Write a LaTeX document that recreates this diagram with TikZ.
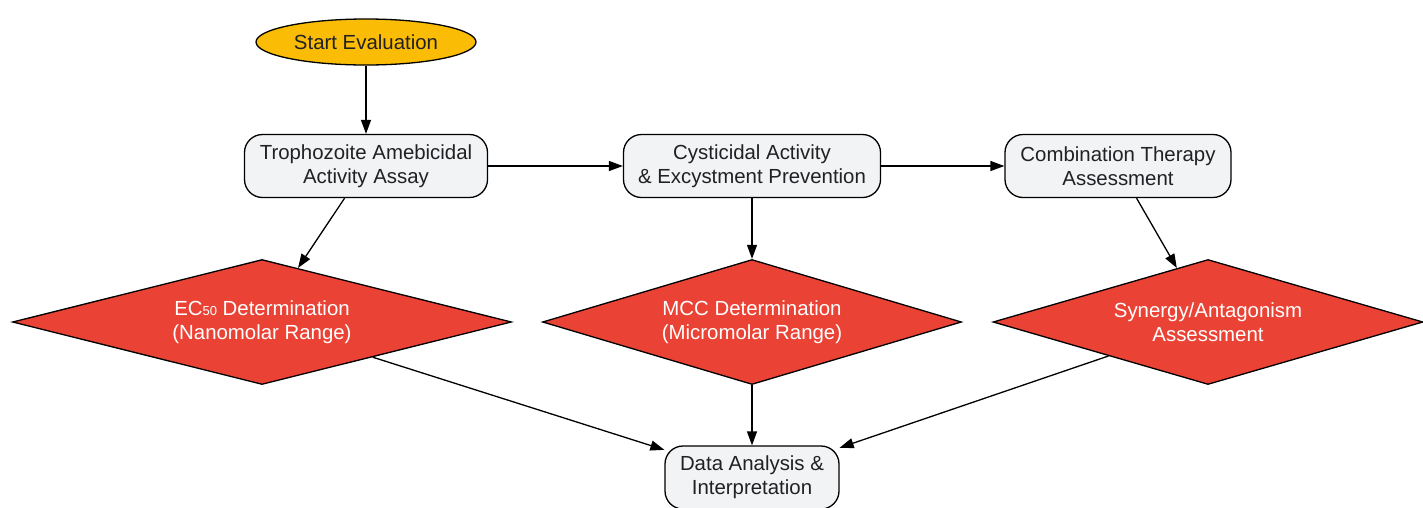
\documentclass[tikz,border=0pt]{standalone}
\usepackage{fontspec}
\setmainfont{Liberation Sans}
\usetikzlibrary{shapes.geometric,arrows.meta}
\definecolor{startyellow}{HTML}{FBBC05}
\definecolor{decred}{HTML}{EA4335}
\definecolor{boxgray}{HTML}{F1F3F4}
\definecolor{textdark}{HTML}{202124}
\newcommand{\subfifty}{{\fontsize{13}{13}\selectfont 50}}
\begin{document}
\begin{tikzpicture}[x=1pt,y=-1pt,
  base/.style={font=\fontsize{20.4}{24}\selectfont, align=center, line width=1.3pt, draw=black},
  startnode/.style={base, ellipse, fill=startyellow, text=textdark, minimum width=220pt, minimum height=46pt, inner sep=0pt},
  procbox/.style={base, rectangle, rounded corners=18pt, fill=boxgray, text=textdark, minimum height=63pt, inner sep=0pt},
  decision/.style={base, diamond, fill=decred, text=white, minimum height=125pt, inner sep=0pt, aspect=4},
  conn/.style={-{Triangle[length=14pt,width=10pt]}, line width=1.3pt}]
\useasboundingbox (0,0) rectangle (1423,507);
\node[startnode] (start) at (366,42) {Start Evaluation};
\node[procbox, minimum width=243pt] (troph) at (366,166) {Trophozoite Amebicidal\\Activity Assay};
\node[procbox, minimum width=257pt] (cyst) at (752,166) {Cysticidal Activity\\\& Excystment Prevention};
\node[procbox, minimum width=226pt] (comb) at (1118,166) {Combination Therapy\\Assessment};
\node[decision, minimum width=499pt] (ec) at (262,322) {EC\subfifty{} Determination\\(Nanomolar Range)};
\node[decision, minimum width=419pt] (mcc) at (752,322) {MCC Determination\\(Micromolar Range)};
\node[decision, minimum width=430pt] (syn) at (1208,322) {Synergy/Antagonism\\Assessment};
\node[procbox, minimum width=174pt] (data) at (752,477.5) {Data Analysis \&\\Interpretation};
\draw[conn] (start) -- (troph);
\draw[conn] (troph) -- (cyst);
\draw[conn] (cyst) -- (comb);
\draw[conn] (troph) -- (ec);
\draw[conn] (cyst) -- (mcc);
\draw[conn] (comb) -- (syn);
\draw[conn] (ec) -- (data);
\draw[conn] (mcc) -- (data);
\draw[conn] (syn) -- (data);
\end{tikzpicture}
\end{document}
